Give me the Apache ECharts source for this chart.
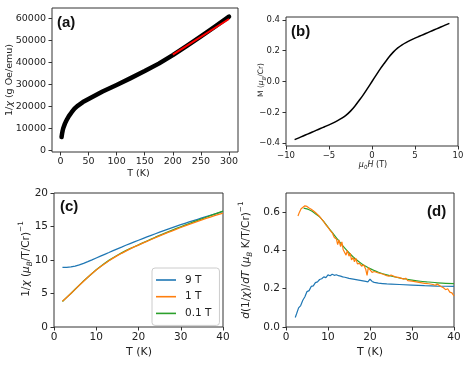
<!DOCTYPE html>
<html><head><meta charset="utf-8">
<script src="https://cdn.jsdelivr.net/npm/echarts@6/dist/echarts.min.js"></script>
<style>html,body{margin:0;padding:0;background:#fff}#c{width:469px;height:366px}</style>
</head><body><div id="c"></div>
<script>
// ---- Panel (a): 1/chi vs T ----
var aT = [2,3,4,5,6,8,10,12,15,20,25,30,40,50,60,75,100,125,150,175,200,225,250,275,300];
var aInvChi = [6000,7700,9000,10000,10800,12100,13200,14200,15500,17300,18900,20100,21900,23300,24700,26700,29700,32800,36000,39400,43300,47500,51800,56200,60800];
var aFitT = [200,300];
var aFitV = [43500,59700];
var aXTicks = [0,50,100,150,200,250,300];
var aYTicks = [0,10000,20000,30000,40000,50000,60000];

// ---- Panel (b): M vs mu0H ----
var bH = [-9,-8.5,-8,-7.5,-7,-6.5,-6,-5.5,-5,-4.5,-4,-3.5,-3,-2.5,-2,-1.5,-1,-0.5,0,0.5,1,1.5,2,2.5,3,3.5,4,4.5,5,5.5,6,6.5,7,7.5,8,8.5,9];
var bM = [-0.377,-0.365,-0.353,-0.341,-0.329,-0.317,-0.305,-0.293,-0.281,-0.268,-0.254,-0.238,-0.218,-0.192,-0.16,-0.123,-0.085,-0.043,0,0.043,0.085,0.123,0.16,0.192,0.218,0.238,0.254,0.268,0.281,0.293,0.305,0.317,0.329,0.341,0.353,0.365,0.377];
var bXTicks = [-10,-5,0,5,10];
var bYTicks = [-0.4,-0.2,0,0.2,0.4];

// ---- Panel (c): 1/chi (muB/T/Cr)^-1 vs T ----
var cT = [2,3,4,5,6,7,8,9,10,11,12,13,14,15,16,17,18,19,20,21,22,23,24,25,26,27,28,29,30,31,32,33,34,35,36,37,38,39,40];
var c9T = [8.9,8.9,8.97,9.1,9.28,9.5,9.75,10.02,10.3,10.58,10.85,11.12,11.4,11.67,11.93,12.2,12.45,12.7,12.95,13.2,13.44,13.68,13.92,14.15,14.38,14.61,14.83,15.05,15.27,15.48,15.68,15.88,16.08,16.28,16.48,16.67,16.86,17.05,17.24];
var c1T = [3.85,4.4,5.0,5.62,6.24,6.84,7.42,7.97,8.5,8.99,9.45,9.88,10.28,10.65,11.0,11.33,11.65,11.95,12.23,12.51,12.79,13.06,13.33,13.59,13.85,14.11,14.36,14.61,14.85,15.08,15.31,15.54,15.76,15.98,16.2,16.41,16.61,16.8,16.98];
var c01T = [3.8,4.42,5.0,5.63,6.25,6.86,7.44,8.0,8.53,9.03,9.5,9.94,10.34,10.71,11.06,11.39,11.7,11.98,12.26,12.55,12.84,13.12,13.4,13.67,13.94,14.2,14.46,14.71,14.96,15.2,15.44,15.68,15.92,16.15,16.38,16.61,16.84,17.07,17.3];

// ---- Panel (d): d(1/chi)/dT vs T ----
var d9T_T = [2.2,2.5,3,3.5,4,4.5,5,5.5,6,6.5,7,7.5,8,8.5,9,9.5,10,10.5,11,11.5,12,12.5,13,13.5,14,15,16,17,18,19,19.5,20,20.5,21,22,23,24,25,27,30,33,36,38,40];
var d9T_V = [0.05,0.068,0.1,0.112,0.14,0.158,0.185,0.19,0.212,0.215,0.232,0.236,0.248,0.252,0.262,0.258,0.272,0.268,0.276,0.27,0.273,0.268,0.266,0.262,0.26,0.254,0.25,0.246,0.242,0.238,0.236,0.25,0.238,0.233,0.229,0.227,0.225,0.224,0.222,0.219,0.216,0.214,0.213,0.212];
var d1T_T = [2.85,3.2,3.6,4,4.5,5,5.5,6,6.5,7,7.5,8,8.5,9,9.5,10,10.5,11,11.5,12,12.3,12.6,13,13.3,13.6,14,14.3,14.6,15,15.3,15.6,16,16.3,16.6,17,17.5,18,18.5,19,19.3,19.6,20,20.5,21,22,23,24,24.5,25,26,27,28,28.5,29,30,31,32,33,34,35,35.5,36,37,37.5,38,38.5,39,39.5,40];
var d1T_V = [0.58,0.6,0.618,0.628,0.633,0.63,0.622,0.615,0.607,0.598,0.588,0.577,0.563,0.55,0.533,0.52,0.505,0.492,0.468,0.46,0.43,0.455,0.42,0.445,0.405,0.41,0.375,0.4,0.37,0.385,0.35,0.362,0.34,0.36,0.33,0.332,0.318,0.325,0.3,0.27,0.31,0.3,0.285,0.29,0.282,0.277,0.268,0.265,0.272,0.262,0.258,0.25,0.255,0.242,0.24,0.236,0.232,0.228,0.226,0.222,0.218,0.224,0.21,0.205,0.195,0.2,0.182,0.178,0.162];
var d01T_T = [4.2,5,6,7,8,9,10,11,12,13,14,15,16,17,18,19,20,21,22,24,26,28,30,32,34,36,38,40];
var d01T_V = [0.621,0.617,0.607,0.592,0.575,0.55,0.522,0.494,0.466,0.438,0.412,0.388,0.366,0.347,0.331,0.317,0.305,0.295,0.286,0.272,0.261,0.252,0.245,0.239,0.235,0.231,0.228,0.227];
var cdXTicks = [0,10,20,30,40];
var cYTicks = [0,5,10,15,20];
var dYTicks = [0,0.2,0.4,0.6];

var legendNames = ['9 T','1 T','0.1 T'];
var BLUE='#1f77b4', ORANGE='#ff7f0e', GREEN='#2ca02c';

function pairs(x,y){return x.map(function(v,i){return [v,y[i]];});}
function mfmt(v){return v<0?'\u2212'+String(Math.abs(v)):String(v);}
function mfmt1(v){return v<0?'\u2212'+Math.abs(v).toFixed(1):v.toFixed(1);}

var FF='DejaVu Sans';
var AX='#333';
function ax(gi,min,max,ticks,fs,fmt,margin){
  return {type:'value',gridIndex:gi,min:min,max:max,
    axisLine:{show:false,onZero:false},splitLine:{show:false},
    axisTick:{show:true,length:3.5,customValues:ticks,lineStyle:{color:AX,width:1}},
    axisLabel:{customValues:ticks,formatter:fmt,fontFamily:FF,fontSize:fs,color:'#222',margin:margin}};
}
var gridBase={show:true,borderColor:AX,borderWidth:1,backgroundColor:'transparent'};
function grid(l,t,w,h){return Object.assign({left:l,top:t,width:w,height:h},gridBase);}
var ls = function(c,w){return {color:c,width:w};};

function txt(x,y,text,size,rot,rich){
  var o={type:'text',x:x,y:y,rotation:rot||0,silent:true,
    style:{text:text,fontFamily:FF,fontSize:size,fill:'#222',align:'center',verticalAlign:'middle'}};
  if(rich) o.style.rich=rich;
  return o;
}
function richSet(s){
  return {n:{fontSize:s,fontFamily:FF,fill:'#222'},
          i:{fontSize:s,fontFamily:FF,fontStyle:'italic',fill:'#222'},
          sub:{fontSize:s*0.7,fontFamily:FF,fontStyle:'italic',fill:'#222',verticalAlign:'bottom',padding:[0,0,-2,0]},
          subn:{fontSize:s*0.7,fontFamily:FF,fill:'#222',verticalAlign:'bottom',padding:[0,0,-2,0]},
          sup:{fontSize:s*0.7,fontFamily:FF,fill:'#222',verticalAlign:'top',padding:[-3,0,0,0]}};
}
function panelTag(x,y,t){
  return {type:'text',x:x,y:y,silent:true,style:{text:t,fontFamily:'Liberation Sans',fontWeight:'bold',fontSize:15,fill:'#111'}};
}

var option={
  animation:false,
  backgroundColor:'#fff',
  grid:[grid(52,8,186,144),grid(286,17,172,129),grid(54,193,169,134),grid(286,193,168,134)],
  xAxis:[
    ax(0,-15,316,aXTicks,9.5,mfmt,5),
    ax(1,-10,10,bXTicks,8.5,mfmt,5),
    ax(2,0,40,cdXTicks,10.5,mfmt,5),
    ax(3,0,40,cdXTicks,10.5,mfmt,5)
  ],
  yAxis:[
    ax(0,-800,64700,aYTicks,9.5,mfmt,6),
    ax(1,-0.418,0.418,bYTicks,8.5,mfmt1,6),
    ax(2,0,20,cYTicks,10.5,mfmt,6),
    ax(3,0,0.7,dYTicks,10.5,mfmt1,6)
  ],
  legend:{data:legendNames,orient:'vertical',left:152,top:268,icon:'rect',
    padding:[6,8,6,4],itemWidth:20,itemHeight:1.6,itemGap:4.7,
    borderColor:'#cccccc',borderWidth:1,borderRadius:3,backgroundColor:'rgba(255,255,255,0.85)',
    textStyle:{fontFamily:FF,fontSize:10.5,lineHeight:12,color:'#222',padding:[0,0,0,4]},selectedMode:false},
  series:[
    {type:'line',xAxisIndex:0,yAxisIndex:0,data:pairs(aT,aInvChi),symbol:'none',lineStyle:{color:'#000',width:4.5,cap:'round',join:'round'},z:2},
    {type:'line',xAxisIndex:0,yAxisIndex:0,data:pairs(aFitT,aFitV),symbol:'none',lineStyle:ls('#ff0000',2),z:3},
    {type:'line',xAxisIndex:1,yAxisIndex:1,data:pairs(bH,bM),symbol:'none',smooth:0.3,lineStyle:ls('#000',1.5)},
    {name:'9 T',type:'line',xAxisIndex:2,yAxisIndex:2,data:pairs(cT,c9T),symbol:'none',itemStyle:{color:BLUE},lineStyle:ls(BLUE,1.3),z:2},
    {name:'0.1 T',type:'line',xAxisIndex:2,yAxisIndex:2,data:pairs(cT,c01T),symbol:'none',itemStyle:{color:GREEN},lineStyle:ls(GREEN,1.3),z:2},
    {name:'1 T',type:'line',xAxisIndex:2,yAxisIndex:2,data:pairs(cT,c1T),symbol:'none',itemStyle:{color:ORANGE},lineStyle:ls(ORANGE,1.3),z:3},
    {name:'d9',type:'line',xAxisIndex:3,yAxisIndex:3,data:pairs(d9T_T,d9T_V),symbol:'none',lineStyle:ls(BLUE,1.2),itemStyle:{color:BLUE}},
    {name:'d01',type:'line',xAxisIndex:3,yAxisIndex:3,data:pairs(d01T_T,d01T_V),symbol:'none',smooth:0.3,lineStyle:ls(GREEN,1.2),itemStyle:{color:GREEN}},
    {name:'d1',type:'line',xAxisIndex:3,yAxisIndex:3,data:pairs(d1T_T,d1T_V),symbol:'none',lineStyle:ls(ORANGE,1.2),itemStyle:{color:ORANGE}}
  ],
  graphic:[
    panelTag(57,15,'(a)'),
    panelTag(291,24,'(b)'),
    panelTag(60,199,'(c)'),
    panelTag(427,204,'(d)'),
    txt(10,80,'{n|1/}{i|χ}{n| (g Oe/emu)}',9.5,Math.PI/2,richSet(9.5)),
    txt(138.5,173.5,'T (K)',9.5),
    txt(261.5,80,'{n|M (}{i|μ}{sub|B}{n|/Cr)}',7.5,Math.PI/2,richSet(7.5)),
    txt(373,165,'{i|μ}{subn|0}{i|H}{n| (T)}',8,0,richSet(8)),
    txt(26.5,259,'{n|1/}{i|χ}{n| (}{i|μ}{sub|B}{n|/T/Cr)}{sup|−1}',10.5,Math.PI/2,richSet(10.5)),
    txt(139,352.5,'T (K)',11),
    txt(246,260,'{i|d}{n|(1/}{i|χ}{n|)/}{i|dT}{n| (}{i|μ}{sub|B}{n| K/T/Cr)}{sup|−1}',10.5,Math.PI/2,richSet(10.5)),
    txt(370,352.5,'T (K)',11)
  ]
};
var ch=echarts.init(document.getElementById('c'),null,{renderer:'canvas'});
ch.setOption(option);
</script></body></html>
